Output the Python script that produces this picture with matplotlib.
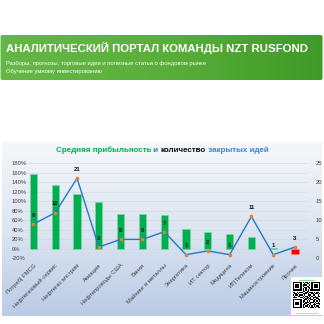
import numpy as np
import matplotlib
matplotlib.use("Agg")
import matplotlib.pyplot as plt
from matplotlib.patches import FancyBboxPatch, Rectangle

plt.rcParams['font.family'] = ['Liberation Sans', 'DejaVu Sans']

categories = ['Потреб| FMCG', 'Нефтегазовый сервис', 'Нефтегаз апстрим', 'Авиация',
              'Нефтепроводы США', 'Банки', 'Майнинг и металлы', 'Энергетика',
              'ИТ сектор', 'Медицина', 'ИТ|Телеком', 'Машиностроение', 'Прочее']
avg_profit = [1.58, 1.33, 1.15, 0.99, 0.74, 0.74, 0.71, 0.41, 0.36, 0.31, 0.26, 0.02, -0.11]
closed_ideas = [9, 12, 21, 3, 5, 5, 7, 1, 2, 1, 11, 1, 3]
left_ticks = [-0.2, 0.0, 0.2, 0.4, 0.6, 0.8, 1.0, 1.2, 1.4, 1.6, 1.8]
right_ticks = [0, 5, 10, 15, 20, 25]

# small QR-like pattern for the corner
qr_rows = [
    "1111111010110101111111",
    "1000001001011001000001",
    "1011101011100101011101",
    "1011101010011001011101",
    "1011101001101101011101",
    "1000001010100101000001",
    "1111111010101011111111",
    "0000000011011000000000",
    "1101011100110111010110",
    "0110100011101001101101",
    "1011011101001110110010",
    "0100110010110101001011",
    "1110001101011010111100",
    "0000000010110110100110",
    "1111111001101011011011",
    "1000001011010100110101",
    "1011101010111011101010",
    "1011101001100110010111",
    "1011101011011010111001",
    "1000001010110101010110",
    "1111111011001011101011",
]

W, H = 324, 324
fig = plt.figure(figsize=(3.24, 3.24), dpi=100)
fig.patch.set_facecolor('white')

bg = fig.add_axes([0, 0, 1, 1], zorder=-10)
bg.set_xlim(0, W)
bg.set_ylim(H, 0)
bg.axis('off')

# green banner
grad = np.linspace(0, 1, 256)[None, :]
banner_cmap = matplotlib.colors.LinearSegmentedColormap.from_list(
    'banner', ['#66b846', '#5aaf3a', '#3f9a27'])
im = bg.imshow(grad, cmap=banner_cmap, extent=[0, 323, 80, 35], aspect='auto', zorder=1)
clip = FancyBboxPatch((0.5, 35), 322, 45, boxstyle='round,pad=0,rounding_size=2',
                      transform=bg.transData, facecolor='none', edgecolor='none')
bg.add_patch(clip)
im.set_clip_path(clip)
bg.text(6, 48, 'АНАЛИТИЧЕСКИЙ ПОРТАЛ КОМАНДЫ NZT RUSFOND', color='white',
        fontsize=8.2, fontweight='bold', va='center', ha='left')
bg.text(6, 63, 'Разборы, прогнозы, торговые идеи и полезные статьи о фондовом рынке',
        color='white', fontsize=4.2, va='center', ha='left')
bg.text(6, 71, 'Обучение умному инвестированию', color='white', fontsize=4.2,
        va='center', ha='left')

# chart panel with vertical gradient
vgrad = np.linspace(0, 1, 256)[:, None]
panel_cmap = matplotlib.colors.LinearSegmentedColormap.from_list(
    'panel', ['#f5f7fa', '#dde5f1', '#b9cbe6'])
bg.imshow(vgrad, cmap=panel_cmap, extent=[2, 322, 316, 142], aspect='auto', zorder=1)

# title in several colours
parts = [('Средняя прибыльность', '#00b050'), (' и ', '#2e75b6'),
         ('количество', '#111111'), (' закрытых идей', '#3a86d4')]
renderer = fig.canvas.get_renderer()
texts = []
widths = []
for s, c in parts:
    t = bg.text(0, 150, s, color=c, fontsize=5.8, fontweight='bold', va='center', ha='left')
    texts.append(t)
    widths.append(t.get_window_extent(renderer).width)
x0 = 162 - sum(widths) / 2
for t, w in zip(texts, widths):
    t.set_x(x0)
    x0 += w

# QR code
bg.add_patch(Rectangle((291, 277), 31, 38, facecolor='white', edgecolor='none', zorder=2))
cell = 27.0 / 22
for r, row in enumerate(qr_rows):
    for c, v in enumerate(row):
        if v == '1':
            bg.add_patch(Rectangle((293 + c * cell, 282 + r * cell), cell, cell,
                                   facecolor='black', edgecolor='none', zorder=3))
bg.plot([299, 314], [279.5, 279.5], color='#66dd66', lw=0.6, zorder=3)
bg.plot([296, 317], [312.8, 312.8], color='#88ee88', lw=0.6, zorder=3)

# main chart
ax = fig.add_axes([23 / W, 1 - 258.5 / H, 284 / W, 95.5 / H])
ax.set_facecolor('none')
x = np.arange(len(categories))
colors = ['#00b050' if v >= 0 else '#ff0000' for v in avg_profit]
edges = ['#7fd8a4' if v >= 0 else '#ff8080' for v in avg_profit]
ax.bar(x, avg_profit, width=0.33, color=colors, edgecolor=edges, linewidth=0.4, zorder=2)
ax.set_ylim(-0.2, 1.8)
ax.set_xlim(-0.48, 12.55)
ax.set_yticks(left_ticks)
ax.set_yticklabels([f'{int(round(v * 100))}%' for v in left_ticks])
ax.yaxis.grid(True, color='#d0d7e2', lw=0.4, zorder=0)
ax.set_xticks(x)
ax.set_xticklabels(categories, rotation=45, ha='right', rotation_mode='anchor')
for sp in ax.spines.values():
    sp.set_visible(False)
ax.tick_params(axis='both', length=0, labelsize=4.2, colors='#404040')
ax.tick_params(axis='y', pad=8)
ax.tick_params(axis='x', pad=3)
for lbl in ax.get_yticklabels():
    lbl.set_horizontalalignment('left')

ax2 = ax.twinx()
ax2.set_ylim(0, 25)
ax2.set_yticks(right_ticks)
ax2.plot(x, closed_ideas, color='#2279c9', lw=1.0, marker='s', markersize=1.8,
         markerfacecolor='#ed7d31', markeredgecolor='#ed7d31', zorder=3)
for xi, v in zip(x, closed_ideas):
    ax2.annotate(str(v), (xi, v), xytext=(0, 4.5), textcoords='offset points',
                 ha='center', va='bottom', fontsize=4.3, fontweight='bold', color='#111111')
for sp in ax2.spines.values():
    sp.set_visible(False)
ax2.tick_params(axis='y', length=0, labelsize=4.2, colors='#404040', pad=6)

fig.savefig('out.png', dpi=100, facecolor='white')
